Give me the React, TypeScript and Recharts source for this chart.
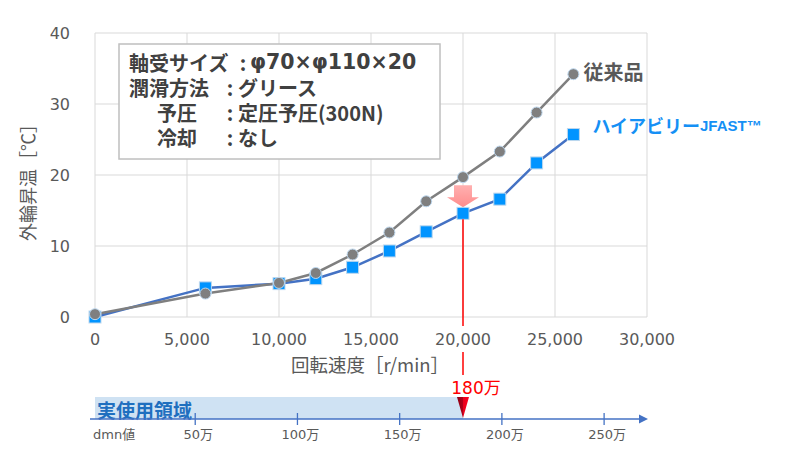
import { LineChart, Line, XAxis, YAxis, CartesianGrid, LabelList, ReferenceDot } from 'recharts';

// rotational speed [r/min]
const speeds = [0, 6000, 10000, 12000, 14000, 16000, 18000, 20000, 22000, 24000, 26000];
// outer ring temperature rise [°C]
const conventional = [0.4, 3.3, 4.8, 6.2, 8.8, 11.9, 16.3, 19.7, 23.3, 28.8, 34.2];
const jfast = [0, 4.1, 4.7, 5.4, 7.0, 9.3, 12.0, 14.6, 16.6, 21.7, 25.7];

const xTicks = [0, 5000, 10000, 15000, 20000, 25000, 30000];
const yTicks = [0, 10, 20, 30, 40];

// dmn axis (万), bearing φ70×φ110 -> dm = 90mm
const dmnTicks = [50, 100, 150, 200, 250];
const dmnLimit = 180;
const pitchDia = (70 + 110) / 2;

const specLabels = ['軸受サイズ', '潤滑方法', '予圧', '冷却'];
const specValues = ['φ70×φ110×20', 'グリース', '定圧予圧(300N)', 'なし'];

const data = speeds.map((s, i) => ({ speed: s, conv: conventional[i], jfast: jfast[i] }));

const W = 787;
const H = 467;
const PL = 95;
const PR = 647;
const PT = 33;
const PB = 317;

const xPx = (v: number) => PL + (v / 30000) * (PR - PL);
const yPx = (v: number) => PB - (v / 40) * (PB - PT);
const dmnPx = (d: number) => xPx((d * 10000) / pitchDia);

const tickFont = "'DejaVu Sans', 'Noto Sans CJK JP', sans-serif";
const jpFont = "'Noto Sans CJK JP', sans-serif";
const gray = '#595959';
const last = speeds.length - 1;

const PinkArrow = (p: any) => {
  const { cx, cy } = p;
  return (
    <path
      d={`M${cx - 9},${cy - 11} L${cx + 9},${cy - 11} L${cx + 9},${cy + 1} L${cx + 16},${cy + 1} L${cx},${cy + 11} L${cx - 16},${cy + 1} L${cx - 9},${cy + 1} Z`}
      fill="url(#pinkGrad)"
    />
  );
};

export default function App() {
  const redTop = yPx(jfast[7]) + 6;
  const limitX = dmnPx(dmnLimit);
  return (
    <div style={{ position: 'absolute', left: 0, top: 0, width: W, height: H, background: '#fff' }}>
      <LineChart
        width={W}
        height={H}
        data={data}
        margin={{ top: PT, right: W - PR, left: 0, bottom: 120 }}
      >
        <defs>
          <linearGradient id="pinkGrad" x1="0" y1="0" x2="0" y2="1">
            <stop offset="0%" stopColor="#ffb0b0" />
            <stop offset="100%" stopColor="#ff8c8c" />
          </linearGradient>
        </defs>
        <CartesianGrid stroke="#d9d9d9" />
        <XAxis
          dataKey="speed"
          type="number"
          domain={[0, 30000]}
          ticks={xTicks}
          height={30}
          axisLine={false}
          tickLine={false}
          tickSize={0}
          tickMargin={17}
          tickFormatter={(v: number) => v.toLocaleString('en-US')}
          tick={{ fill: gray, fontSize: 16, fontFamily: tickFont }}
        />
        <YAxis
          type="number"
          domain={[0, 40]}
          ticks={yTicks}
          width={PL}
          axisLine={false}
          tickLine={false}
          tickSize={0}
          tickMargin={25}
          tick={{ fill: gray, fontSize: 16, fontFamily: tickFont }}
        />
        <ReferenceDot x={20000} y={17} r={0} shape={PinkArrow} ifOverflow="visible" />
        <Line
          dataKey="jfast"
          stroke="#4472c4"
          strokeWidth={2.5}
          isAnimationActive={false}
          dot={(p: any) => (
            <rect key={`j${p.index}`} x={p.cx - 6} y={p.cy - 6} width={12} height={12} fill="#0094ff" stroke="#bdd7ee" strokeWidth={1} />
          )}
        >
          <LabelList
            dataKey="jfast"
            content={(p: any) =>
              p.index === last ? (
                <text x={p.x + 19} y={p.y - 10} dominantBaseline="central" fill="#1590f5" fontWeight="bold" fontFamily={jpFont} fontSize={18}>
                  ハイアビリー<tspan fontSize={15} fontFamily="'Liberation Sans Narrow', 'Liberation Sans', sans-serif">JFAST™</tspan>
                </text>
              ) : null
            }
          />
        </Line>
        <Line
          dataKey="conv"
          stroke="#7f7f7f"
          strokeWidth={2.5}
          isAnimationActive={false}
          dot={(p: any) => (
            <circle key={`c${p.index}`} cx={p.cx} cy={p.cy} r={5.5} fill="#7f7f7f" stroke="#bdd7ee" strokeWidth={1} />
          )}
        >
          <LabelList
            dataKey="conv"
            content={(p: any) =>
              p.index === last ? (
                <text x={p.x + 10} y={p.y - 3} dominantBaseline="central" fill={gray} fontWeight="bold" fontFamily={jpFont} fontSize={20}>
                  従来品
                </text>
              ) : null
            }
          />
        </Line>
      </LineChart>

      <svg width={W} height={H} style={{ position: 'absolute', left: 0, top: 0, pointerEvents: 'none' }}>
        <defs>
          <linearGradient id="redTri" x1="0" y1="0" x2="1" y2="0">
            <stop offset="0%" stopColor="#8c0014" />
            <stop offset="50%" stopColor="#b0001a" />
            <stop offset="51%" stopColor="#e8001c" />
            <stop offset="100%" stopColor="#ff0020" />
          </linearGradient>
        </defs>

        {/* spec box */}
        <rect x={119} y={44} width={321} height={115} fill="#fff" stroke="#bfbfbf" strokeWidth={1.5} />
        {specLabels.map((l, i) => (
          <g key={l} fontFamily={jpFont} fontWeight="bold" fontSize={20} fill="#404040">
            <text x={i < 2 ? 129 : 157} y={62 + i * 25.3} dominantBaseline="central">{l}</text>
            <text x={i === 0 ? 243 : 230} y={62 + i * 25.3} dominantBaseline="central" textAnchor="middle">:</text>
            <text
              x={i === 0 ? 250 : 238}
              y={62 + i * 25.3}
              dominantBaseline="central"
              fontFamily={i === 0 ? "'DejaVu Sans', 'Noto Sans CJK JP', sans-serif" : jpFont}
              fontSize={i === 0 ? 20.5 : 20}
            >
              {specValues[i]}
            </text>
          </g>
        ))}

        {/* axis titles */}
        <text x={27} y={178} transform="rotate(-90 27 178)" textAnchor="middle" dominantBaseline="central" fill={gray} fontFamily={jpFont} fontSize={18}>
          外輪昇温［℃］
        </text>
        <text x={370} y={364} textAnchor="middle" dominantBaseline="central" fill={gray} fontFamily={jpFont} fontSize={18.5}>
          回転速度［r/min］
        </text>

        {/* 20,000 r/min marker */}
        <line x1={xPx(20000)} x2={xPx(20000)} y1={redTop} y2={326} stroke="#ff0000" strokeWidth={1.5} />
        <line x1={xPx(20000)} x2={xPx(20000)} y1={352} y2={375} stroke="#ff0000" strokeWidth={1.5} />
        <text x={476} y={388} textAnchor="middle" dominantBaseline="central" fill="#ff0000" fontFamily={tickFont} fontSize={17}>
          {dmnLimit}万
        </text>

        {/* dmn axis */}
        <rect x={95} y={397} width={limitX - 95} height={22} fill="#cfe2f3" />
        <text x={97} y={409} dominantBaseline="central" fill="#1f6fbf" fontFamily={jpFont} fontWeight="bold" fontSize={19}>
          実使用領域
        </text>
        <line x1={90} x2={642} y1={419} y2={419} stroke="#4472c4" strokeWidth={1.3} />
        <path d="M648,419 L639,414.5 L639,423.5 Z" fill="#4472c4" />
        {dmnTicks.map((d) => (
          <g key={d}>
            <line x1={dmnPx(d) - 2} x2={dmnPx(d) - 2} y1={413} y2={425} stroke="#4472c4" strokeWidth={1.3} />
            <text x={dmnPx(d) + 1} y={434} textAnchor="middle" dominantBaseline="central" fill={gray} fontFamily={tickFont} fontSize={13}>
              {d}万
            </text>
          </g>
        ))}
        <text x={93} y={434} dominantBaseline="central" fill={gray} fontFamily={tickFont} fontSize={13}>
          dmn値
        </text>
        <path d={`M${limitX - 6},397 L${limitX + 6},397 L${limitX},418 Z`} fill="url(#redTri)" />
      </svg>
    </div>
  );
}
